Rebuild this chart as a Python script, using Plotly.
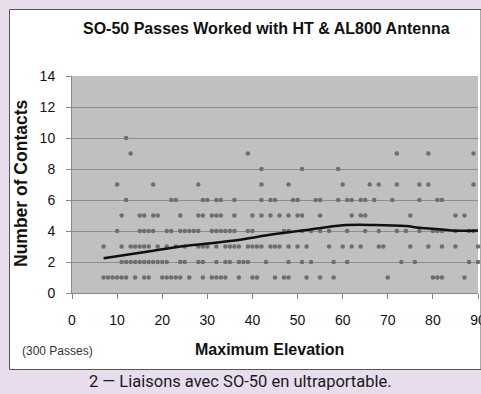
import plotly.graph_objects as go

# Passes per number of contacts (y) at each maximum elevation (x, degrees)
rows = {
    10: [12],
    9: [13, 39, 72, 79, 89],
    8: [42, 51, 59],
    7: [10, 18, 28, 42, 48, 60, 66, 68, 72, 77, 79, 89],
    6: [12, 22, 23, 29, 30, 32, 33, 36, 42, 44, 45, 49, 50, 54, 55, 59, 61, 62,
        64, 65, 67, 71, 77, 81, 82],
    5: [11, 15, 16, 18, 19, 24, 28, 29, 31, 32, 33, 36, 40, 42, 44, 46, 48, 50,
        51, 55, 62, 64, 65, 75, 85, 87],
    4: [10, 15, 16, 17, 18, 21, 22, 24, 25, 26, 27, 28, 31, 32, 33, 34, 35, 36,
        39, 40, 47, 48, 51, 53, 55, 57, 61, 65, 68, 72, 74, 77, 80, 81, 82, 85,
        88, 89],
    3: [7, 11, 13, 14, 15, 16, 17, 19, 21, 23, 25, 28, 29, 30, 32, 34, 35, 36,
        37, 39, 40, 41, 42, 44, 45, 46, 48, 50, 52, 57, 60, 62, 64, 68, 69, 75,
        79, 82, 85, 90],
    2: [11, 12, 13, 14, 15, 16, 17, 18, 19, 20, 21, 24, 25, 28, 29, 32, 34, 35,
        37, 38, 39, 43, 48, 51, 53, 58, 61, 73, 76, 88, 90],
    1: [7, 8, 9, 10, 11, 12, 14, 16, 17, 20, 21, 22, 23, 24, 26, 29, 31, 32, 33,
        34, 37, 40, 41, 45, 47, 48, 52, 55, 58, 70, 80, 81, 82, 87],
}

# Polynomial trend line
trend_x = [7, 18, 25, 35, 45, 52, 60, 67, 74, 77, 82, 85, 90]
trend_y = [2.24, 2.73, 3.03, 3.35, 3.8, 4.06, 4.37, 4.39, 4.32, 4.21, 4.1, 4.02, 4.04]

x_ticks = list(range(0, 91, 10))
y_ticks = list(range(0, 15, 2))

elev, contacts = [], []
for n, xs in rows.items():
    for e in xs:
        elev.append(e)
        contacts.append(n)

W, H = 481, 394
ML, MR, MT, MB = 72, 3, 76, 101
PW, PH = W - ML - MR, H - MT - MB


def px(p):
    return (p - ML) / PW


def py(p):
    return (H - MB - p) / PH


LAV = "#e7ddec"
FONT = "Liberation Sans, Arial, sans-serif"

fig = go.Figure()
fig.add_trace(go.Scatter(
    x=elev, y=contacts, mode="markers",
    marker=dict(size=4.5, color="#6e6e6e", line=dict(width=0)),
    cliponaxis=False, showlegend=False, hoverinfo="x+y",
))
fig.add_trace(go.Scatter(
    x=trend_x, y=trend_y, mode="lines",
    line=dict(color="#111111", width=2.5, shape="spline", smoothing=1.0),
    showlegend=False, hoverinfo="skip",
))

shapes = [
    # lavender frame around the white chart panel
    dict(type="rect", xref="paper", yref="paper", layer="above",
         x0=px(0), x1=px(9), y0=py(H), y1=py(0), fillcolor=LAV, line_width=0),
    dict(type="rect", xref="paper", yref="paper", layer="above",
         x0=px(0), x1=px(W), y0=py(9), y1=py(0), fillcolor=LAV, line_width=0),
    dict(type="rect", xref="paper", yref="paper", layer="above",
         x0=px(0), x1=px(W), y0=py(H), y1=py(370), fillcolor=LAV, line_width=0),
    dict(type="rect", xref="paper", yref="paper", layer="above",
         x0=px(9.5), x1=px(481), y0=py(369.5), y1=py(9.5),
         line=dict(color="#555555", width=1)),
]

annotations = [
    dict(text="<b>SO-50 Passes Worked with HT &amp; AL800 Antenna</b>",
         x=px(266), y=py(28), xref="paper", yref="paper", showarrow=False,
         xanchor="center", yanchor="middle",
         font=dict(family=FONT, size=16, color="#111111")),
    dict(text="<b>Number of Contacts</b>", textangle=-90,
         x=px(21), y=py(183), xref="paper", yref="paper", showarrow=False,
         xanchor="center", yanchor="middle",
         font=dict(family=FONT, size=17.5, color="#111111")),
    dict(text="<b>Maximum Elevation</b>",
         x=px(269), y=py(349), xref="paper", yref="paper", showarrow=False,
         xanchor="center", yanchor="middle",
         font=dict(family=FONT, size=16, color="#111111")),
    dict(text="(300 Passes)",
         x=px(20), y=py(351), xref="paper", yref="paper", showarrow=False,
         xanchor="left", yanchor="middle",
         font=dict(family=FONT, size=12, color="#333333")),
    dict(text="2 \u2014 Liaisons avec SO-50 en ultraportable.",
         x=px(240), y=py(381), xref="paper", yref="paper", showarrow=False,
         xanchor="center", yanchor="middle",
         font=dict(family="Roboto, sans-serif", size=16.5, color="#1a1a1a")),
]

fig.update_layout(
    width=W, height=H,
    margin=dict(l=ML, r=MR, t=MT, b=MB, pad=0, autoexpand=False),
    paper_bgcolor="white", plot_bgcolor="#c0c0c0",
    shapes=shapes, annotations=annotations,
    font=dict(family=FONT, color="#111111"),
)
fig.update_xaxes(
    range=[0, 90], tickvals=x_ticks, ticks="outside", ticklen=5,
    tickcolor="#888888", showgrid=False, zeroline=False,
    showline=True, linecolor="#888888", linewidth=1,
    tickfont=dict(family=FONT, size=14, color="#111111"),
    ticklabelstandoff=9, ticklabeloverflow="allow", automargin=False,
)
fig.update_yaxes(
    range=[0, 14], tickvals=y_ticks, ticks="outside", ticklen=5,
    tickcolor="#888888", showgrid=True, gridcolor="#8e8e8e", gridwidth=1,
    zeroline=False, showline=True, linecolor="#888888", linewidth=1,
    tickfont=dict(family=FONT, size=14, color="#111111"),
    ticklabelstandoff=8, automargin=False,
)

fig.write_html("out.html")
